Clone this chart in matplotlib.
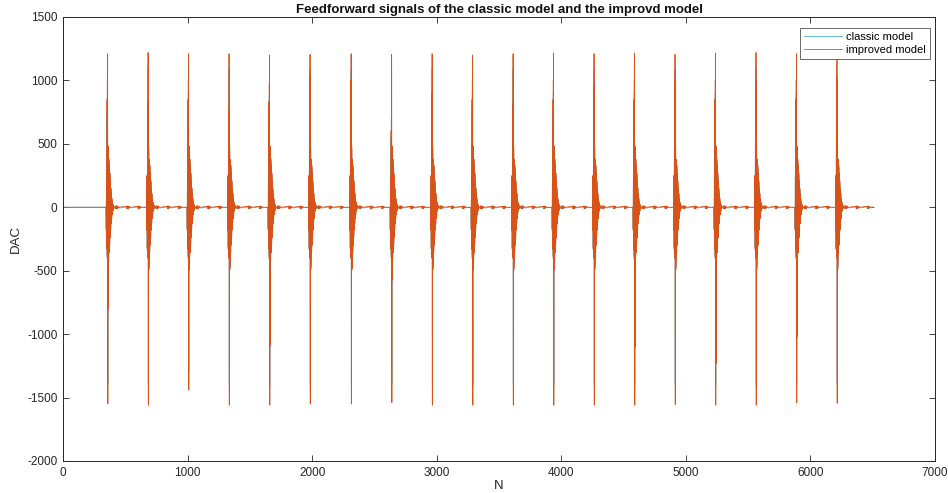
import numpy as np
import matplotlib.pyplot as plt

# ─── data ──────────────────────────────────────────────────────
# sample index where each burst starts
burst_n  = [345, 670, 995, 1320, 1645, 1970, 2300, 2625, 2950, 3275,
            3600, 3925, 4250, 4575, 4900, 5225, 5550, 5875, 6200]
# improved model: largest positive / negative spike per burst
peak_hi  = [1210, 1220, 1210, 1210, 1200, 1205, 1210, 1205, 1210, 1200,
            1210, 1215, 1210, 1215, 1205, 1215, 1220, 1210, 1160]
peak_lo  = [-1550, -1560, -1440, -1560, -1560, -1550, -1550, -1540, -1560, -1560,
            -1560, -1560, -1560, -1560, -1555, -1560, -1560, -1540, -1545]
# second deepest dip per burst
dip2     = [-800, -420, -350, -1340, -1090, -805, -515, -570, -520, -490,
            -490, -470, -510, -1100, -430, -1230, -960, -1020, -520]
# second highest crest per burst
crest2   = [1000, 830, 1000, 760, 980, 1030, 1000, 710, 900, 1000,
            820, 1000, 950, 1000, 1000, 1000, 990, 1000, 1000]

# ringing around the spikes (offset from burst start, value)
ring_off = [0, 2, 4, 6, 8, 10, 12, 14, 16, 18, 20, 22, 24, 26, 28, 30,
            32, 34, 36, 38, 40, 42, 44, 46, 48, 50, 53, 56, 60, 64, 70]
ring_imp = [0, -180, 250, -330, 420, -400, 430, -420, 410, 480, -490, -400,
            380, -360, 330, -300, 270, -240, 210, -180, 150, -130, 110, -90,
            70, -60, 40, -30, 20, -10, 0]
ring_cls = [0, -170, 240, -320, 400, -380, 410, -400, 390, 450, -460, -380,
            360, -340, 310, -280, 250, -220, 190, -160, 140, -120, 100, -80,
            60, -50, 35, -25, 15, -8, 0]
# spike offsets inside a burst
off_c2, off_hi, off_lo, off_d2 = 11, 13, 15, 17

# small wiggles between bursts (offset, value)
tail_off = [75, 78, 81, 84, 87, 90, 93, 96, 99, 110,
            165, 168, 171, 174, 177, 180, 183, 186, 189, 200,
            255, 258, 261, 264, 267, 270, 273, 276, 279, 290, 310]
tail_imp = [9, -11, 12, -12, 11, -10, 9, -7, 5, 0,
            8, -10, 11, -11, 10, -9, 8, -6, 4, 0,
            8, -9, 10, -10, 9, -8, 7, -5, 3, 0, 0]
tail_cls = [4, -5, 5, -5, 4, -4, 3, -3, 2, -6,
            3, -4, 4, -4, 3, -3, 3, -2, 2, -5,
            3, -4, 4, -4, 3, -3, 2, -2, 2, -4, 0]
n_end = 6500
# ───────────────────────────────────────────────────────────────


def build(ring, tail, scale):
    xs, ys = [0], [0]
    for i, n0 in enumerate(burst_n):
        pts = dict(zip(ring_off, ring))
        pts[off_c2 - 2] = crest2[i] * 0.85 * scale
        pts[off_c2] = crest2[i] * scale
        pts[off_hi] = peak_hi[i] * scale
        pts[off_lo] = peak_lo[i] * scale
        pts[off_d2] = dip2[i] * scale
        pts.update(zip(tail_off, tail))
        for o in sorted(pts):
            xs.append(n0 + o)
            ys.append(pts[o])
    xs.append(n_end)
    ys.append(0)
    return np.array(xs), np.array(ys)


x_c, y_c = build(ring_cls, tail_cls, 0.9)
x_i, y_i = build(ring_imp, tail_imp, 1.0)

plt.rcParams['font.family'] = ['Liberation Sans', 'DejaVu Sans']
plt.rcParams['axes.unicode_minus'] = False

fig = plt.figure(figsize=(9.48, 4.93), dpi=100)
ax = fig.add_axes([63 / 948, 1 - 461 / 493, 872 / 948, 444 / 493])

ax.plot(x_c, y_c, color="#4DB3DA", lw=0.6, label="classic model")
ax.plot(x_i, y_i, color="#D95319", lw=0.6, label="improved model")

ax.set_xlim(0, 7000)
ax.set_ylim(-2000, 1500)
ax.set_xticks(np.arange(0, 7001, 1000))
ax.set_yticks(np.arange(-2000, 1501, 500))
ax.tick_params(direction="in", length=4, width=0.6, top=True, right=True,
               labelsize=8.5, colors="#262626", labelcolor="#262626", pad=4)
for s in ax.spines.values():
    s.set_linewidth(0.7)
    s.set_color("#262626")

ax.set_title("Feedforward signals of the classic model and the improvd model",
             fontsize=9.5, fontweight="bold", pad=3, color="#111111")
ax.set_xlabel("N", fontsize=9.5, color="#262626", labelpad=1)
ax.set_ylabel("DAC", fontsize=9.5, color="#262626", labelpad=4)

leg = ax.legend(loc="upper right", bbox_to_anchor=(0.994, 0.975), fontsize=8,
                frameon=True, fancybox=False, borderaxespad=0.0,
                handlelength=3.4, handletextpad=0.4, borderpad=0.35,
                labelspacing=0.25)
leg.get_frame().set_edgecolor("#262626")
leg.get_frame().set_linewidth(0.6)

fig.savefig("out.png", dpi=100)
